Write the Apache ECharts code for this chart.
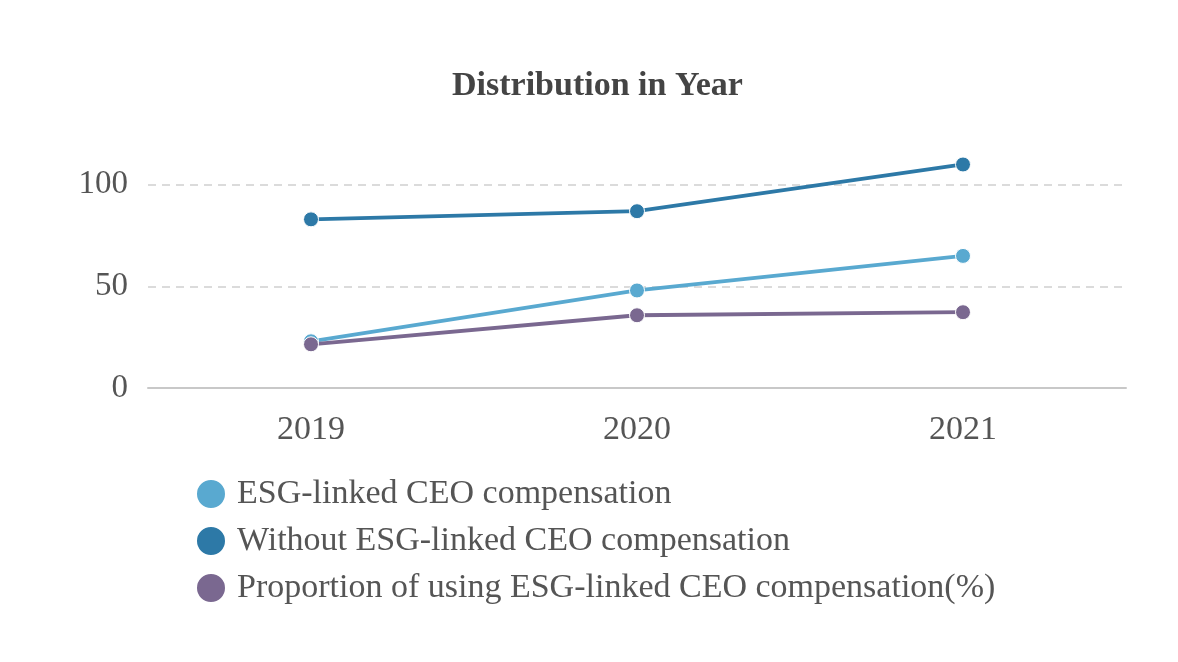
<!DOCTYPE html>
<html><head><meta charset="utf-8">
<script src="https://cdn.jsdelivr.net/npm/echarts@6/dist/echarts.min.js"></script>
<style>html,body{margin:0;padding:0;background:#fff}#c{width:1178px;height:662px}</style>
</head><body><div id="c"></div>
<script>
const categories = ['2019', '2020', '2021'];
const esgLinked = [23, 48, 65];
const withoutEsg = [83, 87, 110];
const proportion = [21.5, 35.8, 37.3];
const seriesNames = ['ESG-linked CEO compensation', 'Without ESG-linked CEO compensation', 'Proportion of using ESG-linked CEO compensation(%)'];
const colors = ['#59a9d0', '#2d79a7', '#7a6890'];
const font = '"Liberation Serif", "DejaVu Serif", serif';

const chart = echarts.init(document.getElementById('c'), null, {renderer: 'canvas'});
const mk = (name, data, color) => ({
  name, type: 'line', data, color,
  symbol: 'circle', symbolSize: 15,
  lineStyle: {width: 3.8, color},
  itemStyle: {color, borderColor: '#fff', borderWidth: 1},
  emphasis: {disabled: true}
});
chart.setOption({
  backgroundColor: '#fff',
  animation: false,
  title: {
    text: 'Distribution in Year', left: 447, top: 64,
    textStyle: {fontFamily: font, fontSize: 34, fontWeight: 'bold', color: '#444'}
  },
  legend: {
    orient: 'vertical', left: 190, top: 472, itemGap: 13,
    icon: 'circle', itemWidth: 30, itemHeight: 30,
    textStyle: {fontFamily: font, fontSize: 34, lineHeight: 30, color: '#555', padding: [0, 0, 0, 6]},
    data: seriesNames
  },
  grid: {left: 148, right: 52, top: 134, bottom: 274},
  xAxis: {
    type: 'category', data: categories, boundaryGap: true,
    axisLine: {lineStyle: {color: '#c8c8c8', width: 2}},
    axisTick: {alignWithLabel: true, length: 6, lineStyle: {color: '#c8c8c8'}},
    axisLabel: {fontFamily: font, fontSize: 34, color: '#555', margin: 25}
  },
  yAxis: {
    type: 'value', min: 0, max: 125, interval: 50,
    axisLine: {show: false}, axisTick: {show: false},
    axisLabel: {fontFamily: font, fontSize: 33, color: '#555', margin: 20, showMaxLabel: false},
    splitLine: {showMaxLine: false, lineStyle: {color: '#d0d0d0', type: [8, 6], width: 1.5}}
  },
  series: [
    mk(seriesNames[0], esgLinked, colors[0]),
    mk(seriesNames[1], withoutEsg, colors[1]),
    mk(seriesNames[2], proportion, colors[2])
  ]
});
</script></body></html>
